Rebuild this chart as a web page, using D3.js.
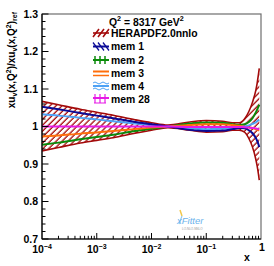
<!DOCTYPE html>
<html><head><meta charset="utf-8">
<script src="https://cdn.jsdelivr.net/npm/d3@7"></script>
<style>
html,body{margin:0;padding:0;background:#fff;}
svg{display:block;font-family:"Liberation Sans",Arial,Helvetica,sans-serif;font-weight:bold;}
</style></head>
<body><svg id="c" width="274" height="266"></svg>
<script>
// ---- data ----
const xs      = [1e-4, 2e-4, 5e-4, 1e-3, 2e-3, 5e-3, 0.01, 0.02, 0.05, 0.1, 0.2, 0.3, 0.4, 0.5, 0.6, 0.7, 0.8, 0.85, 0.9, 0.93];
const heraUp  = [1.067,1.058,1.046,1.038,1.030,1.018,1.010,1.004,1.012,1.016,1.014,1.010,1.010,1.020,1.040,1.065,1.095,1.115,1.140,1.155];
const heraLo  = [0.935,0.944,0.956,0.963,0.970,0.982,0.990,0.997,0.990,0.985,0.986,0.990,0.990,0.985,0.968,0.945,0.914,0.895,0.872,0.857];
const mem1    = [1.053,1.046,1.036,1.029,1.022,1.012,1.006,1.000,0.991,0.988,0.989,0.993,0.996,0.995,0.990,0.982,0.970,0.962,0.952,0.945];
const mem2    = [0.951,0.957,0.966,0.972,0.978,0.988,0.994,1.000,1.008,1.011,1.010,1.006,1.004,1.006,1.012,1.022,1.037,1.045,1.053,1.058];
const mem3    = [0.973,0.976,0.981,0.984,0.988,0.993,0.997,1.000,1.004,1.006,1.006,1.004,1.002,1.000,0.998,0.996,0.993,0.992,0.990,0.990];
const mem4    = [1.0325,1.029,1.023,1.019,1.014,1.008,1.004,1.000,0.995,0.993,0.994,0.996,0.998,1.000,1.003,1.007,1.011,1.014,1.017,1.018];
const mem28   = [1.000,1.000,1.000,1.000,1.000,1.000,1.000,1.000,0.999,0.999,0.999,0.999,0.999,0.998,0.997,0.996,0.995,0.994,0.993,0.993];
const legendLabels = ["HERAPDF2.0nnlo","mem 1","mem 2","mem 3","mem 4","mem 28"];
const yTicks = [0.7,0.8,0.9,1,1.1,1.2,1.3];
const yTickLabels = ["0.7","0.8","0.9","1","1.1","1.2","1.3"];
const xTicks = [1e-4,1e-3,1e-2,1e-1,1];
const xTickExp = ["-4","-3","-2","-1",null];

// ---- layout ----
const L=42, R=261, T=14, B=239;
const svg = d3.select("#c");
const x = d3.scaleLog().domain([1e-4,1]).range([L,R]);
const y = d3.scaleLinear().domain([0.7,1.3]).range([B,T]);

const colHera="#a30a0a", colM1="#0a0a96", colM2="#0a8a0a", colM3="#ff6e0a", colM4="#4ea2f5", colM28="#e619e6";

const defs = svg.append("defs");
defs.append("clipPath").attr("id","clip").append("rect").attr("x",L).attr("y",T).attr("width",R-L).attr("height",B-T);
const pat = defs.append("pattern").attr("id","hatch").attr("patternUnits","userSpaceOnUse")
  .attr("width",4.2).attr("height",4.2).attr("patternTransform","rotate(45)");
pat.append("line").attr("x1",1).attr("y1",0).attr("x2",1).attr("y2",4.2).attr("stroke",colHera).attr("stroke-width",1.3);

// frame
svg.append("rect").attr("x",L).attr("y",T).attr("width",R-L).attr("height",B-T)
  .attr("fill","none").attr("stroke","#6e6e6e").attr("stroke-width",1.2);

const g = svg.append("g").attr("clip-path","url(#clip)");
const area = d3.area().x((d,i)=>x(xs[i])).y0((d,i)=>y(heraLo[i])).y1((d,i)=>y(heraUp[i])).curve(d3.curveMonotoneX);
const line = arr => d3.line().x((d,i)=>x(xs[i])).y((d,i)=>y(arr[i])).curve(d3.curveMonotoneX)(arr);

g.append("path").attr("d",area(xs)).attr("fill","url(#hatch)");
[[heraUp,colHera],[heraLo,colHera]].forEach(([a,c])=>
  g.append("path").attr("d",line(a)).attr("fill","none").attr("stroke",c).attr("stroke-width",1.6));
[[mem2,colM2],[mem3,colM3],[mem4,colM4],[mem1,colM1],[mem28,colM28]].forEach(([a,c])=>
  g.append("path").attr("d",line(a)).attr("fill","none").attr("stroke",c).attr("stroke-width",2));

// axes lines
svg.append("line").attr("x1",L).attr("y1",T).attr("x2",L).attr("y2",B).attr("stroke","#000").attr("stroke-width",1.2);
svg.append("line").attr("x1",L).attr("y1",B).attr("x2",R).attr("y2",B).attr("stroke","#000").attr("stroke-width",1.2);

// y ticks
const yMinor = d3.range(0.7,1.3001,0.02);
yMinor.forEach(v=>{
  const isMaj = Math.abs(v*10-Math.round(v*10))<1e-6;
  svg.append("line").attr("x1",L).attr("x2",L+(isMaj?6.5:3.5)).attr("y1",y(v)).attr("y2",y(v)).attr("stroke","#000").attr("stroke-width",1);
});
yTicks.forEach((v,i)=>{
  svg.append("text").attr("x",38).attr("y",y(v)).attr("dy","0.36em").attr("text-anchor","end")
    .attr("font-size",10.5).text(yTickLabels[i]);
});
// x ticks
for(let e=-4;e<0;e++){
  for(let m=1;m<10;m++){
    const v=m*Math.pow(10,e);
    if(v<=1e-4) continue;
    svg.append("line").attr("x1",x(v)).attr("x2",x(v)).attr("y1",B).attr("y2",B-(m===1?6:3.2)).attr("stroke","#000").attr("stroke-width",1);
  }
}
xTicks.forEach((v,i)=>{
  const t = svg.append("text").attr("x",x(v)).attr("y",253).attr("text-anchor","middle").attr("font-size",10.5);
  if(xTickExp[i]===null){ t.attr("x",x(v)+1).attr("y",251).text("1"); }
  else { t.append("tspan").text("10"); t.append("tspan").attr("dy",-4).attr("font-size",7).text("\u2212"+xTickExp[i].slice(1)); }
});
svg.append("text").attr("x",247).attr("y",261).attr("text-anchor","middle").attr("font-size",10.5).text("x");

// y title
const yt = svg.append("text").attr("transform","translate(15,12) rotate(-90)").attr("text-anchor","end").attr("font-size",10);
yt.append("tspan").text("xu");
yt.append("tspan").attr("font-size",7).attr("dy",2).text("v");
yt.append("tspan").attr("dy",-2).text("(x,Q");
yt.append("tspan").attr("font-size",7).attr("dy",-4).text("2");
yt.append("tspan").attr("dy",4).text(")/xu");
yt.append("tspan").attr("font-size",7).attr("dy",2).text("v");
yt.append("tspan").attr("dy",-2).text("(x,Q");
yt.append("tspan").attr("font-size",7).attr("dy",-4).text("2");
yt.append("tspan").attr("dy",4).text(")");
yt.append("tspan").attr("font-size",7).attr("dy",2).text("ref");

// legend
const q = svg.append("text").attr("x",109).attr("y",25.5).attr("font-size",10.4);
q.append("tspan").text("Q");
q.append("tspan").attr("font-size",7.2).attr("dy",-4.5).text("2");
q.append("tspan").attr("dy",4.5).text(" = 8317 GeV");
q.append("tspan").attr("font-size",7.2).attr("dy",-4.5).text("2");

const rows=[33,46.5,60,73,86,99];
const sx0=93, sx1=109;
legendLabels.forEach((lab,i)=>{
  svg.append("text").attr("x",111).attr("y",rows[i]).attr("dy","0.36em").attr("font-size",10.4).text(lab);
});
const sw = svg.append("g");
// HERA
let yy=rows[0];
sw.append("line").attr("x1",sx0).attr("x2",sx1).attr("y1",yy).attr("y2",yy).attr("stroke",colHera).attr("stroke-width",1.6);
[96,101,106].forEach(cx=>sw.append("line").attr("x1",cx-3).attr("y1",yy+4).attr("x2",cx+3).attr("y2",yy-4).attr("stroke",colHera).attr("stroke-width",1.5));
// mem1
yy=rows[1];
sw.append("line").attr("x1",sx0).attr("x2",sx1).attr("y1",yy).attr("y2",yy).attr("stroke",colM1).attr("stroke-width",2);
[96,101,106].forEach(cx=>sw.append("line").attr("x1",cx-3).attr("y1",yy-4).attr("x2",cx+3).attr("y2",yy+4).attr("stroke",colM1).attr("stroke-width",1.3));
// mem2
yy=rows[2];
sw.append("line").attr("x1",sx0).attr("x2",sx1).attr("y1",yy).attr("y2",yy).attr("stroke",colM2).attr("stroke-width",2);
[95,100,105].forEach(cx=>sw.append("line").attr("x1",cx).attr("y1",yy-4).attr("x2",cx).attr("y2",yy+4).attr("stroke",colM2).attr("stroke-width",1.5));
// mem3
yy=rows[3];
sw.append("line").attr("x1",sx0).attr("x2",sx1).attr("y1",yy-1.5).attr("y2",yy-1.5).attr("stroke",colM3).attr("stroke-width",2);
sw.append("line").attr("x1",sx0).attr("x2",sx1).attr("y1",yy+2.5).attr("y2",yy+2.5).attr("stroke",colM3).attr("stroke-width",1.5);
// mem4
yy=rows[4];
sw.append("line").attr("x1",sx0).attr("x2",sx1).attr("y1",yy).attr("y2",yy).attr("stroke",colM4).attr("stroke-width",2);
[-3,3].forEach(o=>sw.append("path").attr("d",`M${sx0},${yy+o} q2,-2 4,0 t4,0 t4,0 t4,0`).attr("fill","none").attr("stroke",colM4).attr("stroke-width",1));
// mem28
yy=rows[5];
sw.append("line").attr("x1",sx0).attr("x2",sx1).attr("y1",yy-1).attr("y2",yy-1).attr("stroke",colM28).attr("stroke-width",2);
[95,100,105].forEach(cx=>sw.append("line").attr("x1",cx).attr("y1",yy-5).attr("x2",cx).attr("y2",yy+4).attr("stroke",colM28).attr("stroke-width",1.2));
sw.append("line").attr("x1",sx0+1).attr("x2",sx1-3).attr("y1",yy+4).attr("y2",yy+4).attr("stroke",colM28).attr("stroke-width",1);

// xFitter logo
svg.append("path").attr("d","M180,210 l2,6").attr("stroke","#f2c84b").attr("stroke-width",1.5);
svg.append("path").attr("d","M182,216 l-3,8").attr("stroke","#8ec8f0").attr("stroke-width",1.2);
svg.append("text").attr("x",177).attr("y",224).attr("font-size",9.5).attr("font-style","italic").attr("font-weight","normal")
  .attr("fill","#6bb3ec").text("xFitter");
svg.append("text").attr("x",182).attr("y",230).attr("font-size",3).attr("font-weight","normal").attr("fill","#999").text("LO-NLO-NNLO");
</script></body></html>
